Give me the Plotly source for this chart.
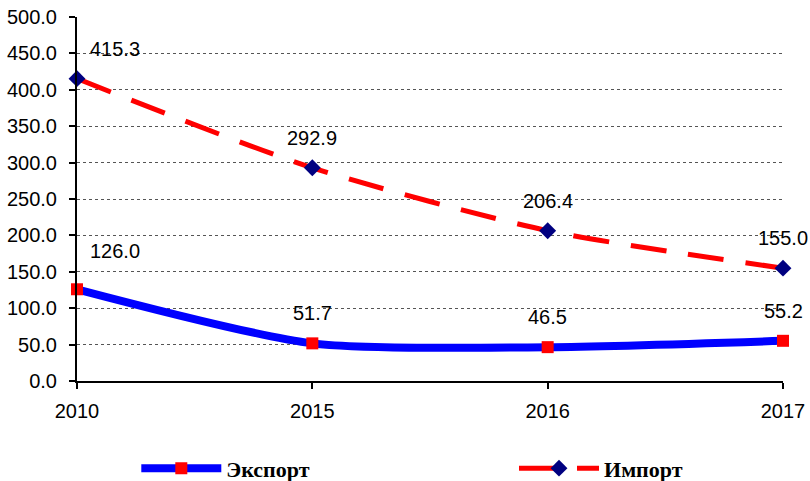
import plotly.graph_objects as go

years = ["2010", "2015", "2016", "2017"]
export_vals = [126.0, 51.7, 46.5, 55.2]
import_vals = [415.3, 292.9, 206.4, 155.0]

fig = go.Figure()

# Экспорт - solid blue with red squares
fig.add_trace(go.Scatter(
    x=years, y=export_vals,
    mode="lines+markers",
    name="Экспорт",
    line=dict(color="#0000ff", width=8, shape="spline", smoothing=0.7),
    marker=dict(symbol="square", size=12, color="#ff0000"),
    cliponaxis=False,
    legend="legend"
))

# Импорт - dashed red with navy diamonds
fig.add_trace(go.Scatter(
    x=years, y=import_vals,
    mode="lines+markers",
    name="Импорт",
    line=dict(color="#ff0000", width=5, dash="36px,22px", shape="spline", smoothing=0.7),
    marker=dict(symbol="diamond", size=13, color="#000080"),
    cliponaxis=False,
    legend="legend2"
))

# data labels above the points
for k, vals in enumerate((export_vals, import_vals)):
    for i in range(len(years)):
        fig.add_annotation(
            x=i, y=vals[i], xref="x", yref="y",
            text="%.1f" % vals[i],
            showarrow=False,
            xshift=38 if i == 0 else 0,
            yshift=38 if (i == 0 and k == 0) else 30,
            font=dict(size=20, color="black")
        )

legend_font = dict(family="Liberation Serif", size=22, color="black", weight="bold")

fig.update_layout(
    width=810, height=481,
    margin=dict(l=77, r=27, t=17, b=100, autoexpand=False),
    paper_bgcolor="white",
    plot_bgcolor="white",
    font=dict(family="Liberation Sans", size=20, color="black"),
    showlegend=True,
    legend=dict(x=0.084, y=-0.24, xanchor="left", yanchor="middle",
                itemwidth=80, font=legend_font, bgcolor="rgba(0,0,0,0)"),
    legend2=dict(x=0.619, y=-0.24, xanchor="left", yanchor="middle",
                 itemwidth=80, font=legend_font, bgcolor="rgba(0,0,0,0)"),
)

fig.update_xaxes(
    type="category", range=[0, 3],
    showline=True, linecolor="black", linewidth=2,
    ticks="outside", ticklen=6, tickwidth=2, tickcolor="black",
    showgrid=False, zeroline=False,
    ticklabelstandoff=5
)
fig.update_yaxes(
    range=[0, 500], dtick=50, tickformat=".1f",
    showline=True, linecolor="black", linewidth=2,
    ticks="outside", ticklen=6, tickwidth=2, tickcolor="black",
    showgrid=True, gridcolor="#555555", gridwidth=1, griddash="dot",
    zeroline=False,
    ticklabelstandoff=8
)

# page body has a default 8px margin
fig.write_html("out.html", config={"displayModeBar": False},
               post_script="document.body.style.margin='0';")
